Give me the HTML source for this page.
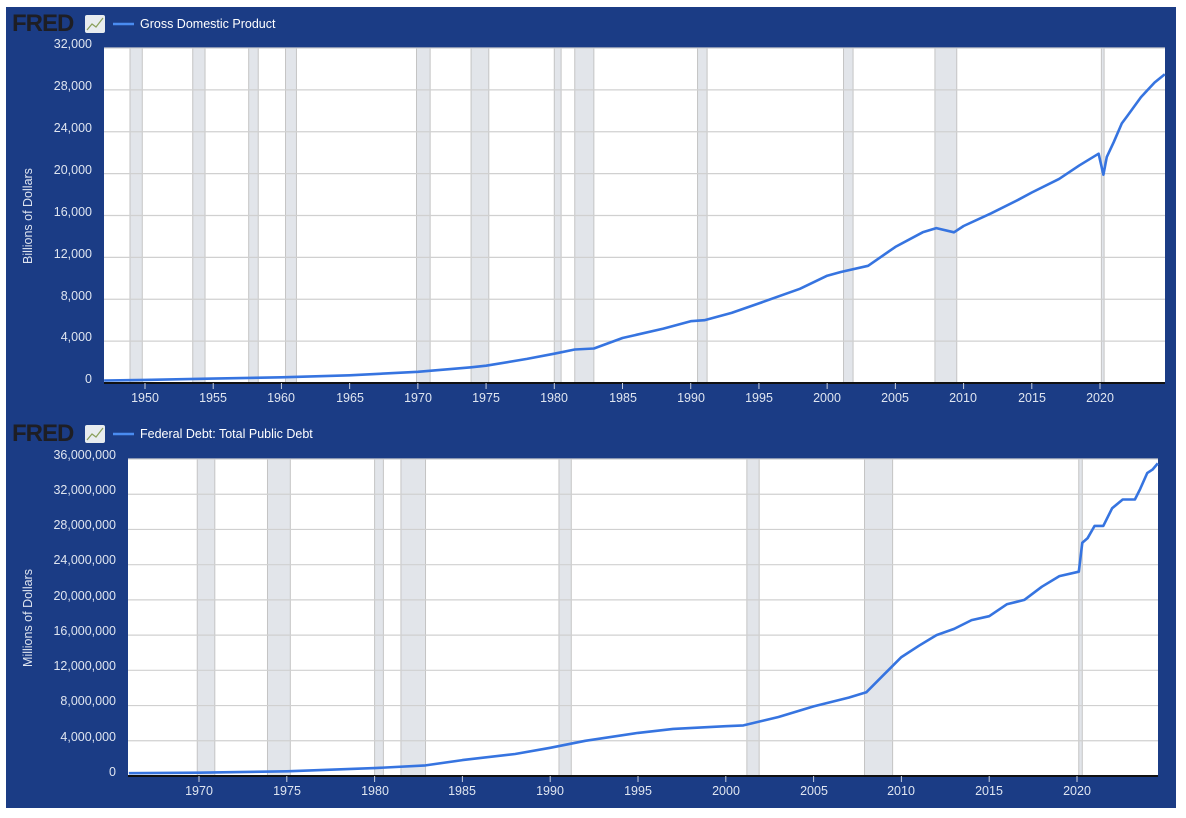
<!DOCTYPE html>
<html><head><meta charset="utf-8"><style>
html,body{margin:0;padding:0;background:#fff;width:1186px;height:818px;overflow:hidden}
svg{display:block;font-family:"Liberation Sans",sans-serif}
.t{fill:#dfe5f0;font-size:12.5px}
</style></head><body>
<svg id="s" width="1186" height="818" viewBox="0 0 1186 818">
<rect x="6" y="7" width="1170" height="801" fill="#1b3c85"/>
<!-- top chart -->
<rect x="104" y="48" width="1061" height="335" fill="#fff"/>
<g id="rb1"></g>
<g id="g1" stroke="#d0d0d0" stroke-width="1.2"></g>
<path id="p1" fill="none" stroke="#3674e0" stroke-width="2.6" stroke-linejoin="round"/>
<line x1="104" y1="383" x2="1165" y2="383" stroke="#111" stroke-width="2"/>
<g id="tk1" stroke="#c8d0e0" stroke-width="1"></g>
<text x="12" y="31" font-size="24" font-weight="bold" fill="#1e1e24" font-family="Liberation Sans,sans-serif" letter-spacing="-1">FRED</text>
<rect x="85" y="15" width="20" height="18" rx="2" fill="#e8ecef"/>
<polyline points="87,30 92,24 96,27 103,18" fill="none" stroke="#8aa05a" stroke-width="1.2"/>
<line x1="113" y1="24" x2="134" y2="24" stroke="#4a8cf0" stroke-width="2.5"/>
<text x="140" y="28" fill="#fff" font-size="12.5">Gross Domestic Product</text>
<g class="t" text-anchor="end">
<text x="92" y="48">32,000</text><text x="92" y="90">28,000</text><text x="92" y="132">24,000</text>
<text x="92" y="174">20,000</text><text x="92" y="216">16,000</text><text x="92" y="258">12,000</text>
<text x="92" y="300">8,000</text><text x="92" y="341">4,000</text><text x="92" y="383">0</text>
</g>
<g class="t" text-anchor="middle">
<text x="145" y="402">1950</text><text x="213" y="402">1955</text><text x="281" y="402">1960</text>
<text x="350" y="402">1965</text><text x="418" y="402">1970</text><text x="486" y="402">1975</text>
<text x="554" y="402">1980</text><text x="623" y="402">1985</text><text x="691" y="402">1990</text>
<text x="759" y="402">1995</text><text x="827" y="402">2000</text><text x="895" y="402">2005</text>
<text x="963" y="402">2010</text><text x="1032" y="402">2015</text><text x="1100" y="402">2020</text>
</g>
<text class="t" transform="translate(32,216) rotate(-90)" text-anchor="middle" font-size="13">Billions of Dollars</text>

<!-- bottom chart -->
<rect x="128" y="459" width="1030" height="317" fill="#fff"/>
<g id="rb2"></g>
<g id="g2" stroke="#d0d0d0" stroke-width="1.2"></g>
<path id="p2" fill="none" stroke="#3674e0" stroke-width="2.6" stroke-linejoin="round"/>
<line x1="128" y1="776" x2="1158" y2="776" stroke="#111" stroke-width="2"/>
<g id="tk2" stroke="#c8d0e0" stroke-width="1"></g>
<text x="12" y="441" font-size="24" font-weight="bold" fill="#1e1e24" letter-spacing="-1">FRED</text>
<rect x="85" y="425" width="20" height="18" rx="2" fill="#e8ecef"/>
<polyline points="87,440 92,434 96,437 103,428" fill="none" stroke="#8aa05a" stroke-width="1.2"/>
<line x1="113" y1="434" x2="134" y2="434" stroke="#4a8cf0" stroke-width="2.5"/>
<text x="140" y="438" fill="#fff" font-size="12.5">Federal Debt: Total Public Debt</text>
<g class="t" text-anchor="end">
<text x="116" y="459">36,000,000</text><text x="116" y="494">32,000,000</text><text x="116" y="529">28,000,000</text>
<text x="116" y="564">24,000,000</text><text x="116" y="600">20,000,000</text><text x="116" y="635">16,000,000</text>
<text x="116" y="670">12,000,000</text><text x="116" y="705">8,000,000</text><text x="116" y="741">4,000,000</text>
<text x="116" y="776">0</text>
</g>
<g class="t" text-anchor="middle">
<text x="199" y="795">1970</text><text x="287" y="795">1975</text><text x="375" y="795">1980</text>
<text x="462" y="795">1985</text><text x="550" y="795">1990</text><text x="638" y="795">1995</text>
<text x="726" y="795">2000</text><text x="814" y="795">2005</text><text x="901" y="795">2010</text>
<text x="989" y="795">2015</text><text x="1077" y="795">2020</text>
</g>
<text class="t" transform="translate(32,618) rotate(-90)" text-anchor="middle" font-size="13">Millions of Dollars</text>
</svg>
<script>
var NS="http://www.w3.org/2000/svg";
function el(p,n,a){var e=document.createElementNS(NS,n);for(var k in a)e.setAttribute(k,a[k]);p.appendChild(e);return e;}
var rec=[[1948.9,1949.8],[1953.5,1954.4],[1957.6,1958.3],[1960.3,1961.1],[1969.9,1970.9],[1973.9,1975.2],[1980.0,1980.5],[1981.5,1982.9],[1990.5,1991.2],[2001.2,2001.9],[2007.9,2009.5],[2020.1,2020.3]];
function chart(x0,y0,yr0,pxy,top,bot,left,right,gstep,gpx,ymax,data,ids,tick0){
  var X=function(y){return x0+(y-yr0)*pxy;};
  var rb=document.getElementById(ids[0]);
  rec.forEach(function(r){var a=X(r[0]),b=X(r[1]);if(b<left)return;a=Math.max(a,left);
    el(rb,"rect",{x:a,y:top,width:Math.max(b-a,2),height:bot-top,fill:"#e2e5ea",stroke:"#c4c4c4","stroke-width":1});});
  var g=document.getElementById(ids[1]);
  for(var v=gstep;v<=ymax;v+=gstep){var y=bot-v*gpx;el(g,"line",{x1:left,x2:right,y1:y,y2:y});}
  var d="";data.forEach(function(p,i){var px=X(p[0]),py=bot-p[1]*gpx;d+=(i?"L":"M")+px.toFixed(1)+","+py.toFixed(1);});
  document.getElementById(ids[2]).setAttribute("d",d);
  var tk=document.getElementById(ids[3]);
  for(var yr=tick0;yr<=2020;yr+=5){var px=X(yr);el(tk,"line",{x1:px,x2:px,y1:bot,y2:bot+6});}
}
var gdp=[[1947,243],[1950,300],[1955,420],[1960,540],[1965,740],[1970,1070],[1973.9,1500],[1975,1650],[1978,2300],[1980,2800],[1981.5,3200],[1982.9,3300],[1985,4300],[1988,5200],[1990,5900],[1991,6000],[1993,6700],[1995,7600],[1998,9000],[2000,10250],[2001,10600],[2003,11200],[2005,13000],[2007,14400],[2008,14800],[2009.3,14400],[2010,15000],[2012,16200],[2014,17500],[2015,18200],[2017,19500],[2018.5,20800],[2019.9,21900],[2020.25,19900],[2020.5,21600],[2021,23000],[2021.6,24800],[2022,25500],[2023,27300],[2024,28700],[2024.75,29500]];
chart(145,0,1950,13.643,48,383,104,1165,4000,335/32000,32000,gdp,["rb1","g1","p1","tk1"],1950);
var debt=[[1966,320],[1970,370],[1975,530],[1980,900],[1982.9,1200],[1985,1800],[1988,2500],[1990,3200],[1992,4000],[1995,4900],[1997,5350],[2000,5650],[2001,5750],[2003,6700],[2005,7900],[2007,8900],[2008,9500],[2009,11500],[2010,13500],[2011,14800],[2012,16000],[2013,16700],[2014,17700],[2015,18150],[2016,19500],[2017,20000],[2018,21500],[2019,22700],[2020.1,23200],[2020.3,26500],[2020.6,27000],[2021,28400],[2021.5,28400],[2022,30400],[2022.6,31400],[2023.3,31400],[2023.6,32600],[2024,34400],[2024.3,34800],[2024.6,35500]].map(function(p){return [p[0],p[1]*1000];});
chart(199,0,1970,17.56,459,776,128,1158,4000000,317/36000000,36000000,debt,["rb2","g2","p2","tk2"],1970);
</script>
</body></html>
